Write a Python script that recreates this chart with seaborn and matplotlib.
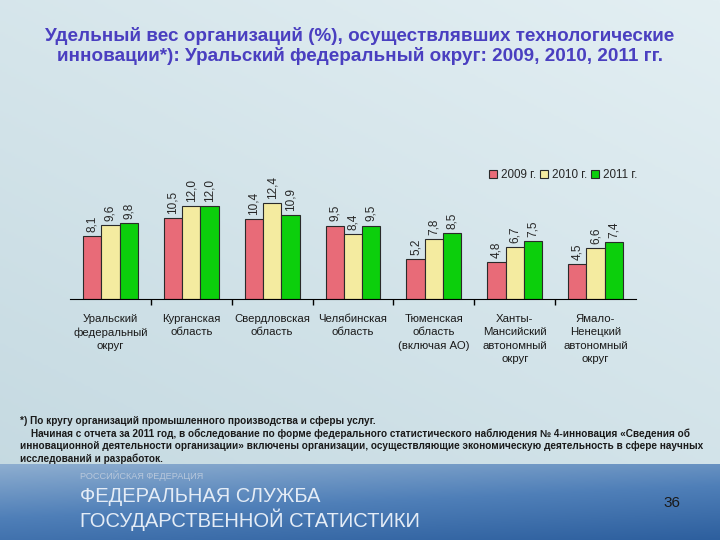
import numpy as np
import pandas as pd
import matplotlib
matplotlib.use("Agg")
import matplotlib.pyplot as plt
import seaborn as sns
from matplotlib.colors import LinearSegmentedColormap

categories = ["Уральский\nфедеральный\nокруг", "Курганская\nобласть", "Свердловская\nобласть",
              "Челябинская\nобласть", "Тюменская\nобласть\n(включая АО)",
              "Ханты-\nМансийский\nавтономный\nокруг", "Ямало-\nНенецкий\nавтономный\nокруг"]
years = ["2009 г.", "2010 г.", "2011 г."]
v2009 = [8.1, 10.5, 10.4, 9.5, 5.2, 4.8, 4.5]
v2010 = [9.6, 12.0, 12.4, 8.4, 7.8, 6.7, 6.6]
v2011 = [9.8, 12.0, 10.9, 9.5, 8.5, 7.5, 7.4]
colors = ["#e86b78", "#f4eba0", "#0ccf0c"]

sns.set_theme(style="white")
plt.rcParams['font.family'] = ['Liberation Sans', 'DejaVu Sans']

df = pd.DataFrame({
    "cat": categories * 3,
    "year": [years[0]] * 7 + [years[1]] * 7 + [years[2]] * 7,
    "val": v2009 + v2010 + v2011,
})

fig = plt.figure(figsize=(7.2, 5.4), dpi=100)

# background gradient
bg = fig.add_axes([0, 0, 1, 1], zorder=-10)
gy = np.linspace(0, 1, 256).reshape(-1, 1)
gx = np.linspace(0, 1, 256).reshape(1, -1)
grad = 0.6 * gy + 0.4 * gx
cm_bg = LinearSegmentedColormap.from_list("bg", ["#c3d8e0", "#e3eff3"])
bg.imshow(grad, cmap=cm_bg, aspect="auto", extent=[0, 1, 0, 1], origin="lower")
bg.set_axis_off()

# bottom band
band = fig.add_axes([0, 0, 1, 76 / 540], zorder=-9)
bgrad = 0.7 * (1 - gy) + 0.3 * gx
cm_band = LinearSegmentedColormap.from_list("band", ["#8eaed0", "#4f7fb8", "#2d5f9e"])
band.imshow(bgrad, cmap=cm_band, aspect="auto", extent=[0, 1, 0, 1], origin="lower")
band.set_axis_off()

ax = fig.add_axes([70 / 720, 1 - 299 / 540, 566 / 720, 139 / 540])
ax.set_facecolor("none")
sns.barplot(data=df, x="cat", y="val", hue="year", palette=colors, width=0.68,
            edgecolor="#2a2a2a", linewidth=0.8, saturation=1, ax=ax)
ax.set_ylim(0, 18)
ax.set_xlim(-0.5, 6.5)
for c in ax.containers:
    ax.bar_label(c, labels=[f"{v:.1f}".replace(".", ",") for v in c.datavalues],
                 rotation=90, padding=3, fontsize=8.5)
for s in ["top", "right", "left"]:
    ax.spines[s].set_visible(False)
ax.spines["bottom"].set_color("black")
ax.spines["bottom"].set_linewidth(0.8)
ax.set_yticks([])
ax.set_xlabel("")
ax.set_ylabel("")
ax.tick_params(axis="x", which="major", length=0, pad=11)
ax.set_xticks(range(7))
ax.set_xticklabels(categories, fontsize=8.2, linespacing=1.4, color="#1a1a1a")
ax.set_xticks(np.arange(0.5, 6, 1), minor=True)
ax.tick_params(axis="x", which="minor", length=4, direction="out", color="black", bottom=True)

leg = ax.legend(loc="upper right", bbox_to_anchor=(1.01, 0.97), ncol=3, frameon=False,
                fontsize=8.4, handlelength=0.7, handleheight=0.7, handletextpad=0.3,
                columnspacing=0.35, borderaxespad=0)

fig.text(0.5, 1 - 46 / 540, "Удельный вес организаций (%), осуществлявших технологические\n"
         "инновации*): Уральский федеральный округ: 2009, 2010, 2011 гг.",
         ha="center", va="center", fontsize=13.6, fontweight="bold", color="#4a3fc0",
         linespacing=1.1)

foot = ("*) По кругу организаций промышленного производства и сферы услуг.\n"
        "    Начиная с отчета за 2011 год, в обследование по форме федерального статистического наблюдения № 4-инновация «Сведения об\n"
        "инновационной деятельности организации» включены организации, осуществляющие экономическую деятельность в сфере научных\n"
        "исследований и разработок.")
fig.text(20 / 720, 1 - 416 / 540, foot, ha="left", va="top", fontsize=7.2,
         fontweight="bold", color="#1a1a1a", linespacing=1.27)

fig.text(80 / 720, 1 - 476 / 540, "РОССИЙСКАЯ ФЕДЕРАЦИЯ", fontsize=6.6, color="#b8c8dc",
         va="center", ha="left")
fig.text(80 / 720, 1 - 496 / 540, "ФЕДЕРАЛЬНАЯ СЛУЖБА", fontsize=14.5, color="#e4ecf6",
         va="center", ha="left")
fig.text(80 / 720, 1 - 520 / 540, "ГОСУДАРСТВЕННОЙ СТАТИСТИКИ", fontsize=14.5, color="#e4ecf6",
         va="center", ha="left")
fig.text(672 / 720, 1 - 503 / 540, "36", fontsize=11, color="#1a1a1a", va="center", ha="center")

fig.savefig("out.png", dpi=100)
